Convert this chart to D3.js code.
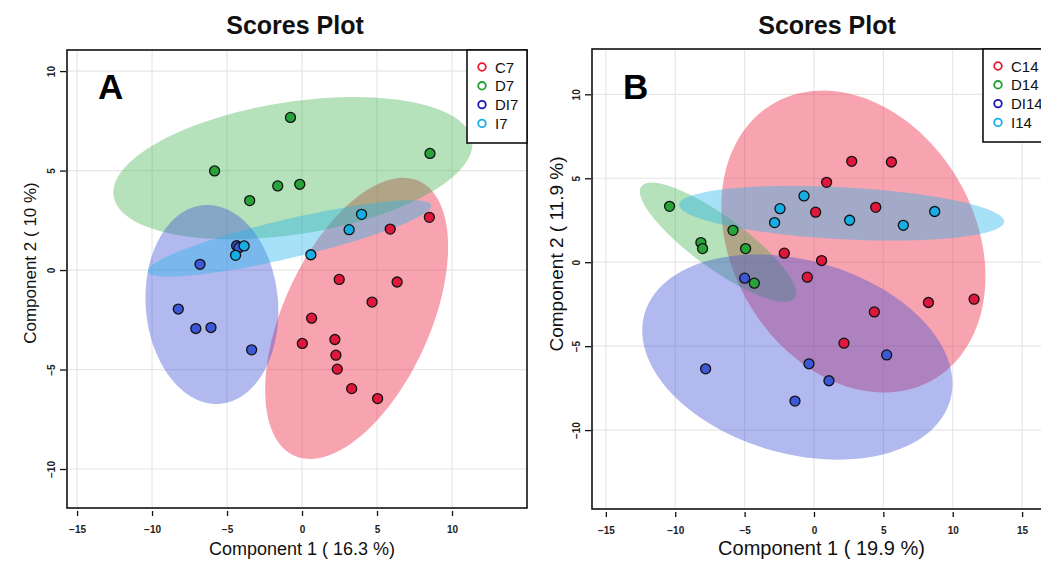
<!DOCTYPE html>
<html>
<head>
<meta charset="utf-8">
<script src="https://cdn.jsdelivr.net/npm/d3@7"></script>
<style>
  body { margin: 0; background: #fff; }
  svg text { font-family: "Liberation Sans", Arial, sans-serif; }
</style>
</head>
<body>
<div id="chart"></div>
<script>
// scores, panel A (day 7)
const c7 = [[8.49,2.65],[5.88,2.06],[2.48,-0.47],[6.34,-0.60],[4.67,-1.61],[0.64,-2.42],
            [0.02,-3.69],[2.19,-3.49],[2.26,-4.28],[2.35,-4.98],[3.31,-5.96],[5.04,-6.46]];
const d7 = [[-0.77,7.67],[8.53,5.86],[-5.83,4.98],[-1.62,4.23],[-0.15,4.31],[-3.49,3.49]];
const di7 = [[-6.80,0.29],[-8.25,-1.96],[-7.08,-2.94],[-6.07,-2.89],[-3.36,-4.01],[-4.36,1.22],[-4.21,1.12]];
const i7 = [[3.97,2.80],[3.14,2.03],[0.59,0.77],[-3.86,1.21],[-4.43,0.74]];

// scores, panel B (day 14)
const c14 = [[2.72,6.01],[5.58,5.97],[0.91,4.76],[4.45,3.27],[0.12,2.98],[-2.14,0.54],
             [0.55,0.10],[-0.48,-0.89],[8.25,-2.40],[11.54,-2.20],[4.35,-2.96],[2.16,-4.82]];
const d14 = [[-10.41,3.33],[-5.84,1.90],[-8.15,1.17],[-8.03,0.81],[-4.93,0.81],[-4.30,-1.25]];
const di14 = [[-5.0,-0.95],[-7.81,-6.35],[-0.36,-6.05],[5.24,-5.52],[1.08,-7.06],[-1.37,-8.27]];
const i14 = [[-0.72,3.95],[-2.45,3.19],[-2.84,2.36],[2.57,2.50],[6.44,2.20],[8.70,3.02]];

// confidence ellipses: [cx, cy, ax, ay, b] (centre, semi-diameter a, vertical semi-diameter b)
const ellC7 = [3.64, -2.43, 6.10, 3.60, 6.08];
const ellD7 = [-0.61, 5.12, 11.97, 1.22, 3.36];
const ellDI7 = [-6.01, -1.73, 4.43, -0.34, 4.99];
const ellI7 = [-0.83, 1.59, 9.45, 1.64, 1.0];
const ellC14 = [2.84, 1.23, 9.52, -2.08, 8.75];
const ellD14 = [-6.92, 1.19, 5.63, -3.02, 1.87];
const ellDI14 = [-1.20, -5.65, 11.18, -1.59, 5.90];
const ellI14 = [2.0, 2.92, 11.71, -0.50, 1.55];

const groupsA = ["C7", "D7", "DI7", "I7"];
const groupsB = ["C14", "D14", "DI14", "I14"];
const xTicksA = [-15, -10, -5, 0, 5, 10];
const xTicksB = [-15, -10, -5, 0, 5, 10, 15];
const yTicks = [-10, -5, 0, 5, 10];

const ptFill = ["#e0173d", "#27a33a", "#3d58d6", "#17aee6"];
const ellFill = ["#f0364f", "#2ca83c", "#3f4fd6", "#22b5ea"];
const ellOpacity = [0.45, 0.35, 0.4, 0.4];
const legStroke = ["#e8172f", "#1f9e2f", "#1a1ab5", "#16aee6"];

const svg = d3.select("#chart").append("svg")
    .attr("width", 1041)
    .attr("height", 561);

const panels = [
  {letter: "A", groups: groupsA, pts: [c7, d7, di7, i7], ell: [ellC7, ellD7, ellDI7, ellI7],
   box: {l: 67, r: 527, t: 50, b: 508}, xDom: [-15.67, 15], yDom: [-11.96, 11.06], xTicks: xTicksA,
   xLab: "Component 1 ( 16.3 %)", yLab: "Component 2 ( 10 %)", xLabSize: 18, yLabSize: 17,
   yLabX: 36, yLabY: 263, titleX: 295, letterX: 98, legX: 467},
  {letter: "B", groups: groupsB, pts: [c14, d14, di14, i14], ell: [ellC14, ellD14, ellDI14, ellI14],
   box: {l: 592, r: 1054, t: 49, b: 509}, xDom: [-16, 17.3], yDom: [-14.7, 12.7], xTicks: xTicksB,
   xLab: "Component 1 ( 19.9 %)", yLab: "Component 2 ( 11.9 %)", xLabSize: 20, yLabSize: 19,
   yLabX: 563, yLabY: 254, titleX: 827, letterX: 623, legX: 983}
];

panels.forEach(p => {
  const bx = p.box;
  const x = d3.scaleLinear().domain(p.xDom).range([bx.l, bx.r]);
  const y = d3.scaleLinear().domain(p.yDom).range([bx.b, bx.t]);
  const g = svg.append("g");

  // grid
  g.append("g").selectAll("line").data(p.xTicks).enter().append("line")
      .attr("x1", d => x(d)).attr("x2", d => x(d))
      .attr("y1", bx.t).attr("y2", bx.b)
      .style("stroke", "#e6e6e6").style("stroke-width", 1.2);
  g.append("g").selectAll("line").data(yTicks).enter().append("line")
      .attr("y1", d => y(d)).attr("y2", d => y(d))
      .attr("x1", bx.l).attr("x2", bx.r)
      .style("stroke", "#e6e6e6").style("stroke-width", 1.2);

  // ellipses
  const ts = d3.range(0, 120).map(i => i / 120 * 2 * Math.PI);
  const line = d3.line().curve(d3.curveLinearClosed);
  p.ell.forEach((e, i) => {
    const pts = ts.map(t => [
      x(e[0] + Math.cos(t) * e[2]),
      y(e[1] + Math.cos(t) * e[3] + Math.sin(t) * e[4])
    ]);
    g.append("path")
        .attr("d", line(pts))
        .style("fill", ellFill[i])
        .style("fill-opacity", ellOpacity[i])
        .style("stroke", "none");
  });

  // points
  p.pts.forEach((arr, i) => {
    g.append("g").selectAll("circle").data(arr).enter().append("circle")
        .attr("cx", d => x(d[0]))
        .attr("cy", d => y(d[1]))
        .attr("r", 5)
        .style("fill", ptFill[i])
        .style("stroke", "#111")
        .style("stroke-width", 1.3);
  });

  // frame
  g.append("rect")
      .attr("x", bx.l).attr("y", bx.t)
      .attr("width", bx.r - bx.l).attr("height", bx.b - bx.t)
      .style("fill", "none").style("stroke", "#111").style("stroke-width", 1.6);

  // axes
  const xa = g.append("g")
      .attr("transform", `translate(0, ${bx.b + 3})`)
      .call(d3.axisBottom(x).tickValues(p.xTicks).tickSize(5).tickPadding(10));
  xa.select(".domain").remove();
  xa.selectAll("line").style("stroke", "#111").style("stroke-width", 1.3);
  xa.selectAll("text").style("font-size", "10px").style("font-weight", "bold").style("fill", "#222");

  const ya = g.append("g")
      .attr("transform", `translate(${bx.l - 1}, 0)`)
      .call(d3.axisLeft(y).tickValues(yTicks).tickSize(6));
  ya.select(".domain").remove();
  ya.selectAll("line").style("stroke", "#111").style("stroke-width", 1.3);
  ya.selectAll("text")
      .attr("x", 0).attr("dy", 0)
      .attr("text-anchor", "middle")
      .attr("transform", "translate(-11, 0) rotate(-90)")
      .style("font-size", "10px").style("font-weight", "bold").style("fill", "#222");

  // axis titles
  g.append("text")
      .attr("x", (bx.l + Math.min(bx.r, 1041)) / 2 + 5)
      .attr("y", 555)
      .attr("text-anchor", "middle")
      .style("font-size", p.xLabSize + "px")
      .style("fill", "#111")
      .text(p.xLab);
  g.append("text")
      .attr("transform", `translate(${p.yLabX}, ${p.yLabY}) rotate(-90)`)
      .attr("text-anchor", "middle")
      .style("font-size", p.yLabSize + "px")
      .style("fill", "#111")
      .text(p.yLab);

  // title
  g.append("text")
      .attr("x", p.titleX)
      .attr("y", 34)
      .attr("text-anchor", "middle")
      .style("font-size", "25px")
      .style("font-weight", "bold")
      .style("fill", "#111")
      .text("Scores Plot");

  // panel letter
  g.append("text")
      .attr("x", p.letterX)
      .attr("y", 99)
      .style("font-size", "35px")
      .style("font-weight", "bold")
      .style("fill", "#000")
      .text(p.letter);

  // legend
  const leg = g.append("g");
  leg.append("rect")
      .attr("x", p.legX).attr("y", bx.t)
      .attr("width", 60).attr("height", 93)
      .style("fill", "#fff").style("stroke", "#111").style("stroke-width", 1.6);
  p.groups.forEach((name, i) => {
    const ly = bx.t + 17 + i * 18.8;
    leg.append("circle")
        .attr("cx", p.legX + 15).attr("cy", ly)
        .attr("r", 3.8)
        .style("fill", "none")
        .style("stroke", legStroke[i])
        .style("stroke-width", 1.8);
    leg.append("text")
        .attr("x", p.legX + 28).attr("y", ly + 5.5)
        .style("font-size", "15px")
        .style("fill", "#111")
        .text(name);
  });
});
</script>
</body>
</html>
